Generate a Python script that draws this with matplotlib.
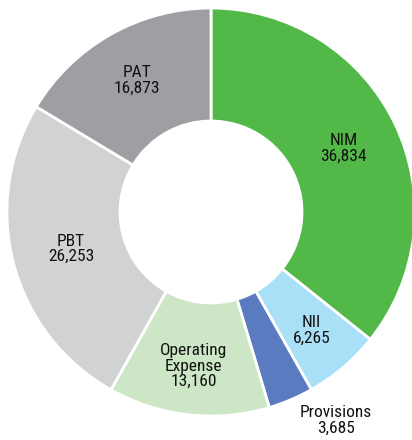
import numpy as np
import matplotlib.pyplot as plt

# segment data (values as labelled in the chart)
labels = ["NIM", "NII", "Provisions", "Operating\nExpense", "PBT", "PAT"]
values = [36834, 6265, 3685, 13160, 26253, 16873]
colors = ["#52b848", "#a9dff7", "#5a7bbf", "#cde6c5", "#d1d2d4", "#9e9fa3"]
# radius (in pie units) where each label sits
label_r = [0.72, 0.76, 1.11, 0.76, 0.71, 0.74]

plt.rcParams['font.family'] = ['Roboto Condensed', 'DejaVu Sans']

fig = plt.figure(figsize=(4.12, 4.40), dpi=100)
# centre of donut at (211, 212) px from top-left, outer radius 204 px
ax = fig.add_axes([(211 - 204) / 412, (228 - 204) / 440, 408 / 412, 408 / 440])

wedges, _ = ax.pie(values, colors=colors, startangle=90, counterclock=False,
                   radius=1.0,
                   wedgeprops=dict(width=0.554, edgecolor="white", linewidth=2))
for w in wedges:
    w.set_clip_on(False)

for w, lab, val, r in zip(wedges, labels, values, label_r):
    ang = np.deg2rad((w.theta1 + w.theta2) / 2)
    x, y = r * np.cos(ang), r * np.sin(ang)
    ha = "left" if r > 1 else "center"  # Provisions sits outside the ring
    ax.text(x, y, f"{lab}\n{val:,}", ha=ha, va="center", multialignment="center",
            fontsize=12.5, color="#111111", linespacing=1.05)

ax.set_xlim(-1, 1)
ax.set_ylim(-1, 1)
ax.set_aspect("equal")
ax.axis("off")

fig.savefig("out.png", dpi=100)
